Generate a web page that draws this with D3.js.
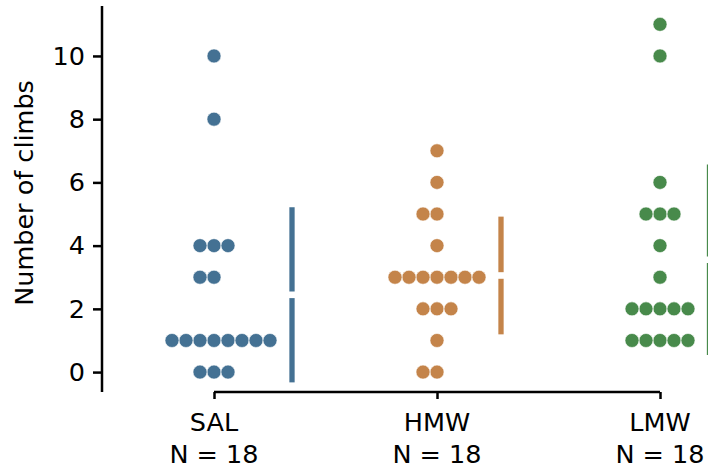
<!DOCTYPE html>
<html>
<head>
<meta charset="utf-8">
<script src="https://cdn.jsdelivr.net/npm/d3@7"></script>
<style>
  body { margin: 0; background: #fff; }
  text { font-family: "DejaVu Sans", sans-serif; }
</style>
</head>
<body>
<div id="graph"></div>
<script>
// groups and observed values (number of climbs per animal)
const groups = ["SAL", "HMW", "LMW"];
const groupN = ["N = 18", "N = 18", "N = 18"];
const salValues = [10, 8, 4, 4, 4, 3, 3, 1, 1, 1, 1, 1, 1, 1, 1, 0, 0, 0];
const hmwValues = [7, 6, 5, 5, 4, 3, 3, 3, 3, 3, 3, 3, 2, 2, 2, 1, 0, 0];
const lmwValues = [11, 10, 6, 5, 5, 5, 4, 3, 2, 2, 2, 2, 2, 1, 1, 1, 1, 1];
const yTicks = [0, 2, 4, 6, 8, 10];

const colors = ["#447193", "#c4844a", "#488a4b"];
const barOffset = [78, 64, 49.5];   // distance of mean/sd bar from group centre

const width = 708, height = 468;
const fontSize = 25.5;

const svg = d3.select("#graph")
  .append("svg")
    .attr("width", width)
    .attr("height", height);

var x = d3.scalePoint()
  .domain(groups)
  .range([214, 660]);

var y = d3.scaleLinear()
  .domain([-0.63, 11.58])
  .range([392, 6]);

// y axis
const yAxis = svg.append("g")
  .attr("transform", "translate(102,0)")
  .call(d3.axisLeft(y).tickValues(yTicks).tickSize(9).tickPadding(8));
yAxis.select(".domain").attr("d", "M0," + y.range()[0] + "V" + y.range()[1]);

// x axis, trimmed to the first and last group
const xAxis = svg.append("g")
  .attr("transform", "translate(0,392)")
  .call(d3.axisBottom(x).tickSize(7).tickFormat(""));
xAxis.select(".domain").attr("d", "M" + x("SAL") + ",0H" + x("LMW"));

svg.selectAll(".domain, .tick line")
  .attr("stroke", "#000")
  .attr("stroke-width", 2.5);
yAxis.selectAll(".tick text")
  .attr("font-size", fontSize)
  .attr("fill", "#000");

// two-line category labels
groups.forEach((g, i) => {
  const t = svg.append("text")
    .attr("text-anchor", "middle")
    .attr("font-size", fontSize)
    .attr("fill", "#000");
  t.append("tspan").attr("x", x(g)).attr("y", 431).text(g);
  t.append("tspan").attr("x", x(g)).attr("y", 463).text(groupN[i]);
});

svg.append("text")
  .attr("transform", "translate(33,193) rotate(-90)")
  .attr("text-anchor", "middle")
  .attr("font-size", fontSize)
  .attr("fill", "#000")
  .text("Number of climbs");

// swarm: identical values spread sideways, filling centre first
const slotOrder = [0, -1, 1, 2, -2, -3, 3, 4, -4, -5, 5];
const dotStep = 14;

function swarm(values) {
  const seen = new Map();
  return values.map(v => {
    const k = seen.get(v) || 0;
    seen.set(v, k + 1);
    return { value: v, slot: slotOrder[k] };
  });
}

const allValues = [salValues, hmwValues, lmwValues];

const plot = svg.append("g");

allValues.forEach((vals, i) => {
  const g = groups[i];
  plot.selectAll(".dot-" + g)
    .data(swarm(vals))
    .enter()
    .append("circle")
      .attr("cx", d => x(g) + d.slot * dotStep)
      .attr("cy", d => y(d.value))
      .attr("r", 7)
      .attr("fill", colors[i])
      .attr("stroke", "#fff")
      .attr("stroke-width", 0.6);

  // mean +/- sd, with a small gap at the mean
  const m = d3.mean(vals), sd = d3.deviation(vals);
  const bx = x(g) + barOffset[i];
  const gap = 3.3;
  const segs = [[y(m + sd), y(m) - gap], [y(m) + gap, y(m - sd)]];
  plot.selectAll(".bar-" + g)
    .data(segs)
    .enter()
    .append("line")
      .attr("x1", bx).attr("x2", bx)
      .attr("y1", d => d[0]).attr("y2", d => d[1])
      .attr("stroke", colors[i])
      .attr("stroke-width", 5.3);
});
</script>
</body>
</html>
